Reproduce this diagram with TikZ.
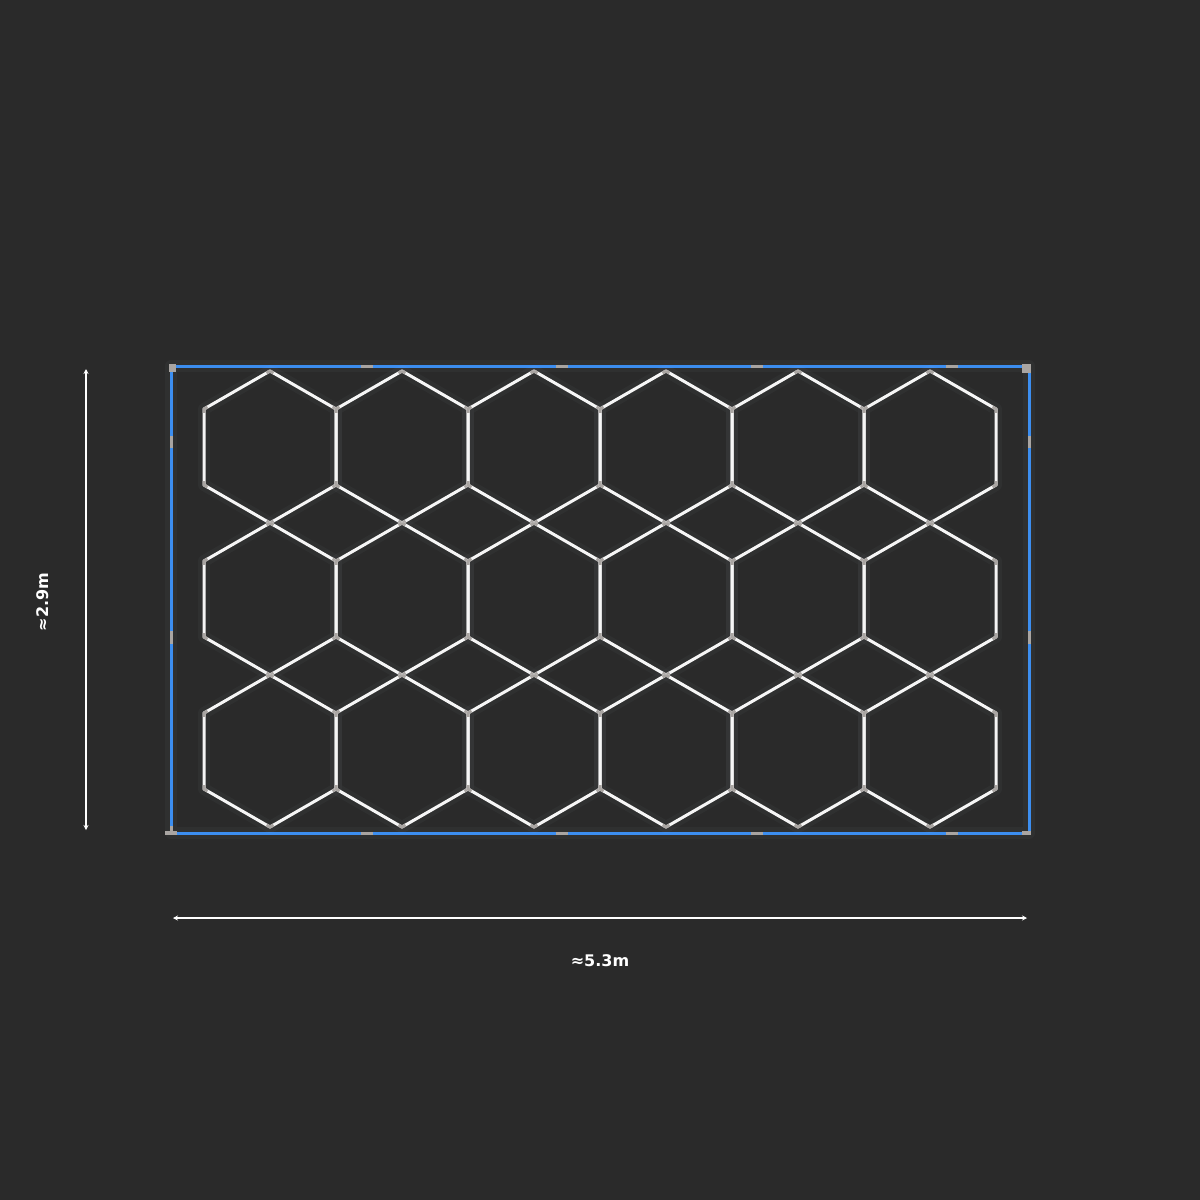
\documentclass[tikz,border=0pt]{standalone}
\usepackage{fontspec}
\setmainfont{DejaVu Sans}
\usetikzlibrary{arrows.meta}
\definecolor{bgdark}{HTML}{2A2A2A}
\definecolor{frameblue}{HTML}{3C8EF0}
\definecolor{jointgray}{HTML}{A9A5A2}
\definecolor{tubewhite}{HTML}{F6F6F6}
\definecolor{haze}{HTML}{C8D8F0}
\tikzset{
  glow/.style={haze, opacity=0.035, line width=12pt, line join=round},
  tube/.style={tubewhite, line width=3pt, line join=round},
  joint/.style={jointgray, line width=3pt, dash pattern=on 8pt off 68.1pt, dash phase=4pt},
  dimline/.style={white, line width=1.5pt, {Stealth[length=5pt,width=5pt]}-{Stealth[length=5pt,width=5pt]}},
  dimlabel/.style={white, font=\bfseries\fontsize{16}{19}\selectfont}
}
\def\hexcell(#1,#2){%
  \draw[glow] (#1,#2-76) -- ++(66,38) -- ++(0,76) -- ++(-66,38) -- ++(-66,-38) -- ++(0,-76) -- cycle;
  \draw[tube] (#1,#2-76) -- ++(66,38) -- ++(0,76) -- ++(-66,38) -- ++(-66,-38) -- ++(0,-76) -- cycle;
  \draw[joint] (#1,#2-76) -- ++(66,38) -- ++(0,76) -- ++(-66,38) -- ++(-66,-38) -- ++(0,-76) -- cycle;}

\begin{document}
\begin{tikzpicture}[x=1pt,y=-1pt]
			%%%%% START %%%%%
			
			\fill[bgdark] (0, 0) rectangle (1200, 1200);
			\useasboundingbox (0, 0) rectangle (1200, 1200);
			
			% frame
			\draw[glow] (171, 366) rectangle (1029, 833);
			\draw[frameblue, line width=3pt] (171, 366) rectangle (1029, 833);
			
			\fill[jointgray] (169, 364) rectangle (176, 372);
			\fill[jointgray] (1022, 364) rectangle (1031, 373);
			\fill[jointgray] (165, 831) rectangle (177, 835);
			\fill[jointgray] (169.5, 826) rectangle (172.5, 835);
			\fill[jointgray] (1022, 831) rectangle (1031, 835);
			
			\fill[jointgray] (361, 364.5) rectangle (373, 367.5);
			\fill[jointgray] (556, 364.5) rectangle (568, 367.5);
			\fill[jointgray] (751, 364.5) rectangle (763, 367.5);
			\fill[jointgray] (946, 364.5) rectangle (958, 367.5);
			
			\fill[jointgray] (361, 831.5) rectangle (373, 834.5);
			\fill[jointgray] (556, 831.5) rectangle (568, 834.5);
			\fill[jointgray] (751, 831.5) rectangle (763, 834.5);
			\fill[jointgray] (946, 831.5) rectangle (958, 834.5);
			
			\fill[jointgray] (169.5, 436) rectangle (172.5, 448);
			\fill[jointgray] (169.5, 631) rectangle (172.5, 644);
			\fill[jointgray] (1027.5, 436) rectangle (1030.5, 448);
			\fill[jointgray] (1027.5, 631) rectangle (1030.5, 644);
			
			% top row
			\hexcell(270,447)
			\hexcell(402,447)
			\hexcell(534,447)
			\hexcell(666,447)
			\hexcell(798,447)
			\hexcell(930,447)
			
			% middle row
			\hexcell(270,599)
			\hexcell(402,599)
			\hexcell(534,599)
			\hexcell(666,599)
			\hexcell(798,599)
			\hexcell(930,599)
			
			% bottom row
			\hexcell(270,751)
			\hexcell(402,751)
			\hexcell(534,751)
			\hexcell(666,751)
			\hexcell(798,751)
			\hexcell(930,751)
			
			% dimensions
			\coordinate (htop) at (86, 369);
			\coordinate (hbot) at (86, 830);
			\draw[dimline] (htop) -- (hbot);
			\node[dimlabel, rotate=90] (heightlabel) at (43, 602) {≈2.9m};
			
			\coordinate (wleft) at (173, 918);
			\coordinate (wright) at (1027, 918);
			\draw[dimline] (wleft) -- (wright);
			\node[dimlabel] (widthlabel) at (600, 961) {≈5.3m};
			
			%%%%% END %%%%%
		\end{tikzpicture}
\end{document}
